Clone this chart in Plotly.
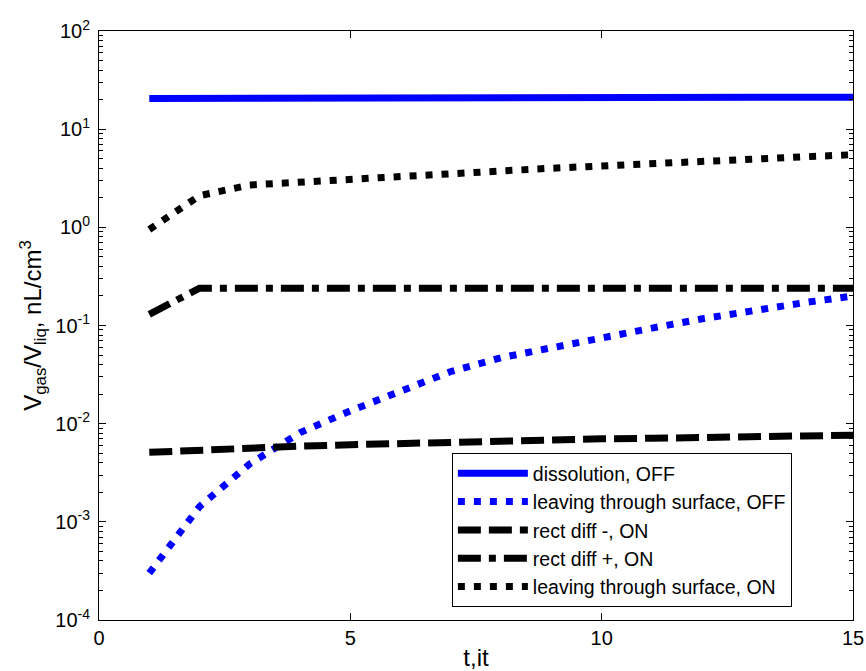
import plotly.graph_objects as go

t = list(range(1, 16))

dissolution_off = [20.5, 20.5, 20.5, 20.5, 20.5, 20.5, 20.5, 20.5,
                   21.2, 21.2, 21.2, 21.2, 21.2, 21.2, 21.2]
leaving_off = [0.0003, 0.00143, 0.0039, 0.0081, 0.0135, 0.0218, 0.034, 0.047,
               0.060, 0.075, 0.094, 0.117, 0.143, 0.170, 0.200]
rect_minus_on = [0.0051, 0.0054, 0.0056, 0.0059, 0.0061, 0.0063, 0.0066, 0.0067,
                 0.0068, 0.0070, 0.0071, 0.0073, 0.0074, 0.0075, 0.0076]
rect_plus_on = [0.13, 0.24, 0.24, 0.24, 0.24, 0.24, 0.24, 0.24,
                0.24, 0.24, 0.24, 0.24, 0.24, 0.24, 0.24]
leaving_on = [0.95, 2.1, 2.7, 2.9, 3.15, 3.35, 3.55, 3.75,
              4.0, 4.2, 4.45, 4.7, 4.9, 5.15, 5.5]

names = ["dissolution, OFF", "leaving through surface, OFF", "rect diff -, ON",
         "rect diff +, ON", "leaving through surface, ON"]

x_ticks = [0, 5, 10, 15]
y_tickvals = [1e-4, 1e-3, 1e-2, 1e-1, 1e0, 1e1, 1e2]
y_ticktext = ["10<sup>-4</sup>", "10<sup>-3</sup>", "10<sup>-2</sup>", "10<sup>-1</sup>",
              "10<sup>0</sup>", "10<sup>1</sup>", "10<sup>2</sup>"]
decades = [1e-4, 1e-3, 1e-2, 1e-1, 1e0, 1e1]
minor_mult = [2, 3, 4, 5, 6, 7, 8, 9]
y_minor = [d * m for d in decades for m in minor_mult]

LW = 7
fig = go.Figure()
fig.add_trace(go.Scatter(x=t, y=dissolution_off, mode="lines", name=names[0],
                         line=dict(color="#0000ff", width=LW)))
fig.add_trace(go.Scatter(x=t, y=leaving_off, mode="lines", name=names[1],
                         line=dict(color="#0000ff", width=LW, dash="7px,9px")))
fig.add_trace(go.Scatter(x=t, y=rect_minus_on, mode="lines", name=names[2],
                         line=dict(color="#000000", width=LW, dash="23px,8px")))
fig.add_trace(go.Scatter(x=t, y=rect_plus_on, mode="lines", name=names[3],
                         line=dict(color="#000000", width=LW, dash="23px,8px,7px,8px")))
fig.add_trace(go.Scatter(x=t, y=leaving_on, mode="lines", name=names[4],
                         line=dict(color="#000000", width=LW, dash="7px,9px")))

font = "Liberation Sans, Arial, Helvetica, sans-serif"
fig.update_layout(
    width=866, height=671,
    margin=dict(l=99, r=13, t=31, b=51),
    paper_bgcolor="white", plot_bgcolor="white",
    font=dict(family=font, size=20, color="black"),
    showlegend=True,
    legend=dict(x=0.468, y=0.022, xanchor="left", yanchor="bottom",
                bgcolor="white", bordercolor="black", borderwidth=1,
                font=dict(size=19.5), itemwidth=70, tracegroupgap=0),
    xaxis=dict(range=[0, 15], tickvals=x_ticks, ticks="inside", ticklen=7,
               tickcolor="black", tickwidth=1, showline=True, linecolor="black",
               linewidth=1, mirror="ticks", showgrid=False, zeroline=False,
               automargin=False,
               title=dict(text="t,it", standoff=4),
               tickfont=dict(size=20)),
    yaxis=dict(type="log", range=[-4, 2], tickvals=y_tickvals, ticktext=y_ticktext,
               ticks="inside", ticklen=7, tickcolor="black", tickwidth=1,
               showline=True, linecolor="black", linewidth=1, mirror="ticks",
               showgrid=False, zeroline=False, ticklabelstandoff=4,
               automargin=False,
               minor=dict(ticks="inside", ticklen=4, tickcolor="black",
                          tickmode="array", tickvals=y_minor, showgrid=False),
               title=dict(text="V<sub>gas</sub>/V<sub>liq</sub>, nL/cm<sup>3</sup>",
                          standoff=6),
               tickfont=dict(size=20)),
)

fig.write_html("out.html")
